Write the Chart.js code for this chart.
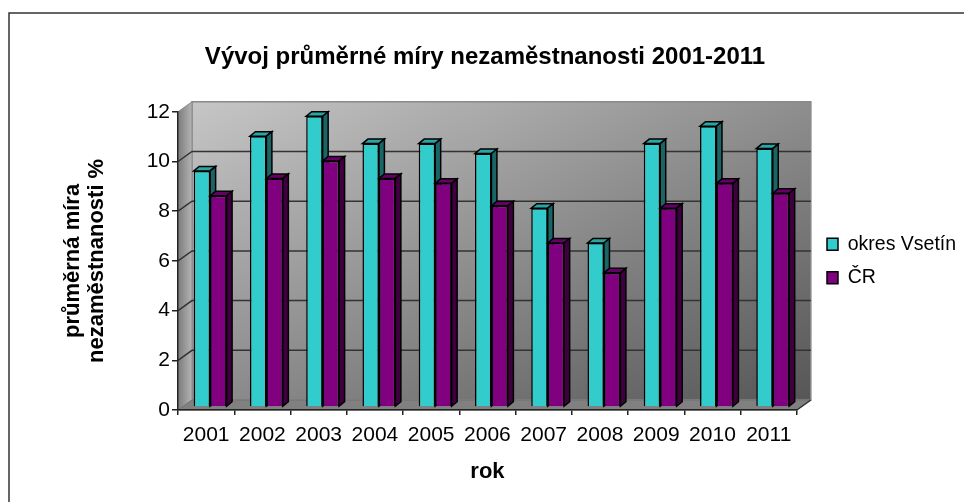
<!DOCTYPE html>
<html>
<head>
<meta charset="utf-8">
<style>
  html, body { margin: 0; padding: 0; background: #fff; }
  canvas { display: block; }
</style>
<script src="https://cdn.jsdelivr.net/npm/chart.js@4"></script>
</head>
<body>
<canvas id="myChart" width="964" height="502"></canvas>
<script>
const roky = ['2001','2002','2003','2004','2005','2006','2007','2008','2009','2010','2011']
const okresVsetin = [9.5,10.9,11.7,10.6,10.6,10.2,8.0,6.6,10.6,11.3,10.4]
const cr = [8.5,9.2,9.9,9.2,9.0,8.1,6.6,5.4,8.0,9.0,8.6]

const font = 'Liberation Sans, Arial, sans-serif'
const wallX = 14, wallY = -10     // back wall offset from the front axes
const barX = 4, barY = -3         // bars stand in the middle of the floor
const depthX = 5.5, depthY = -4.5 // depth of one bar

function poly(ctx, pts, fill, stroke, lw) {
    ctx.beginPath()
    pts.forEach((p, i) => i ? ctx.lineTo(p[0], p[1]) : ctx.moveTo(p[0], p[1]))
    ctx.closePath()
    if (fill) { ctx.fillStyle = fill; ctx.fill() }
    if (stroke) { ctx.strokeStyle = stroke; ctx.lineWidth = lw; ctx.stroke() }
}

function drawFaces(chart, index) {
    const ctx = chart.ctx
    const ds = chart.data.datasets[index]
    chart.getDatasetMeta(index).data.forEach(bar => {
        const p = bar.getProps(['x','y','base','width'], true)
        const x0 = p.x - p.width / 2, x1 = p.x + p.width / 2
        poly(ctx, [[x0,p.y],[x1,p.y],[x1+depthX,p.y+depthY],[x0+depthX,p.y+depthY]], ds.topColor, '#000', 1.5)
        poly(ctx, [[x1,p.y],[x1+depthX,p.y+depthY],[x1+depthX,p.base+depthY],[x1,p.base]], ds.sideColor, '#000', 1.5)
    })
}

const box3d = {
    id: 'box3d',
    beforeDraw(chart) {
        const ctx = chart.ctx, a = chart.chartArea, ys = chart.scales.y
        const l = a.left, r = a.right, t = a.top, b = a.bottom

        // frame, only top and left are inside the picture
        ctx.save()
        ctx.strokeStyle = '#333'
        ctx.lineWidth = 1.5
        ctx.beginPath()
        ctx.moveTo(9, 502); ctx.lineTo(9, 13); ctx.lineTo(964, 13)
        ctx.stroke()

        // back wall, the gradient runs corner to corner
        const w = r - l, h = b - t, k = 2 * w * h / (w * w + h * h)
        const g = ctx.createLinearGradient(l + wallX, t + wallY, l + wallX + h * k, t + wallY + w * k)
        g.addColorStop(0, '#c6c6c6')
        g.addColorStop(1, '#565656')
        poly(ctx, [[l+wallX,t+wallY],[r+wallX,t+wallY],[r+wallX,b+wallY],[l+wallX,b+wallY]], g, '#8a8a8a', 1.5)

        // side wall
        const g2 = ctx.createLinearGradient(l, 0, l + wallX, 0)
        g2.addColorStop(0, '#7c7c7c')
        g2.addColorStop(1, '#b4b4b4')
        poly(ctx, [[l,t],[l+wallX,t+wallY],[l+wallX,b+wallY],[l,b]], g2, '#8a8a8a', 1)

        // floor
        poly(ctx, [[l,b],[r,b],[r+wallX,b+wallY],[l+wallX,b+wallY]], '#808080', '#707070', 1)

        // inner grid lines run along the side wall and the back wall
        ctx.strokeStyle = '#333'
        ctx.lineWidth = 1.5
        ys.ticks.forEach(tick => {
            if (tick.value === 0 || tick.value === ys.max) return
            const y = ys.getPixelForValue(tick.value)
            ctx.beginPath()
            ctx.moveTo(l, y)
            ctx.lineTo(l + wallX, y + wallY)
            ctx.lineTo(r + wallX, y + wallY)
            ctx.stroke()
        })
        ctx.beginPath()
        ctx.moveTo(r, b); ctx.lineTo(r + wallX, b + wallY)
        ctx.stroke()
        ctx.restore()

        // legend rows need big padding, which would also push the plot to the left
        chart.legend.left = 813
        chart.legend.right = 964
        chart.legend.top = a.top
        chart.legend.bottom = a.bottom
    },
    // the left bars are painted last by Chart.js, here the right ones must cover their sides
    beforeDatasetDraw(chart, args) {
        if (args.index === 1) return false
        chart.ctx.save()
        chart.ctx.translate(barX, barY)
    },
    afterDatasetDraw(chart, args) {
        drawFaces(chart, 0)
        chart.getDatasetMeta(1).controller.draw()
        drawFaces(chart, 1)
        chart.ctx.restore()
    }
}

new Chart(document.getElementById('myChart'), {
    type: 'bar',
    data: {
        labels: roky,
        datasets: [{
            label: 'okres Vsetín',
            data: okresVsetin,
            backgroundColor: '#33cccc',
            borderColor: '#000',
            borderWidth: 1.5,
            topColor: '#2aa5a5',
            sideColor: '#1a6666',
            clip: false
        }, {
            label: 'ČR',
            data: cr,
            backgroundColor: '#800080',
            borderColor: '#000',
            borderWidth: 1.5,
            topColor: '#660066',
            sideColor: '#400040',
            clip: false
        }]
    },
    options: {
        responsive: false,
        animation: false,
        layout: { padding: { left: 20, right: 14 } },
        datasets: { bar: { categoryPercentage: 0.585, barPercentage: 1 } },
        plugins: {
            title: {
                display: true,
                text: 'Vývoj průměrné míry nezaměstnanosti 2001-2011',
                color: '#000',
                font: { family: font, size: 24, weight: 'bold' },
                padding: { top: 43, bottom: 40 }
            },
            legend: {
                position: 'right',
                labels: {
                    boxWidth: 11,
                    boxHeight: 12,
                    padding: 14,
                    color: '#000',
                    font: { family: font, size: 19.5 }
                }
            },
            tooltip: { enabled: false }
        },
        scales: {
            x: {
                afterFit(s) { s.height = 92 },
                grid: { drawOnChartArea: false, color: '#222', tickLength: 5, lineWidth: 1.5 },
                border: { color: '#222', width: 1.5 },
                ticks: { color: '#000', font: { family: font, size: 21 }, padding: 8, maxRotation: 0, autoSkip: false },
                title: {
                    display: true,
                    text: 'rok',
                    color: '#000',
                    font: { family: font, size: 22, weight: 'bold' },
                    padding: { top: 12, bottom: 17 }
                }
            },
            y: {
                min: 0,
                max: 12,
                afterFit(s) { s.width = 158 },
                grid: { drawOnChartArea: false, color: '#222', tickLength: 6, lineWidth: 1.5 },
                border: { color: '#222', width: 1.5 },
                ticks: { stepSize: 2, color: '#000', font: { family: font, size: 21 }, padding: 2 },
                title: {
                    display: true,
                    text: ['průměrná míra', 'nezaměstnanosti %'],
                    color: '#000',
                    font: { family: font, size: 22, weight: 'bold', lineHeight: 1.1 },
                    padding: { top: 41, bottom: 0 }
                }
            }
        }
    },
    plugins: [box3d]
})
</script>
</body>
</html>
